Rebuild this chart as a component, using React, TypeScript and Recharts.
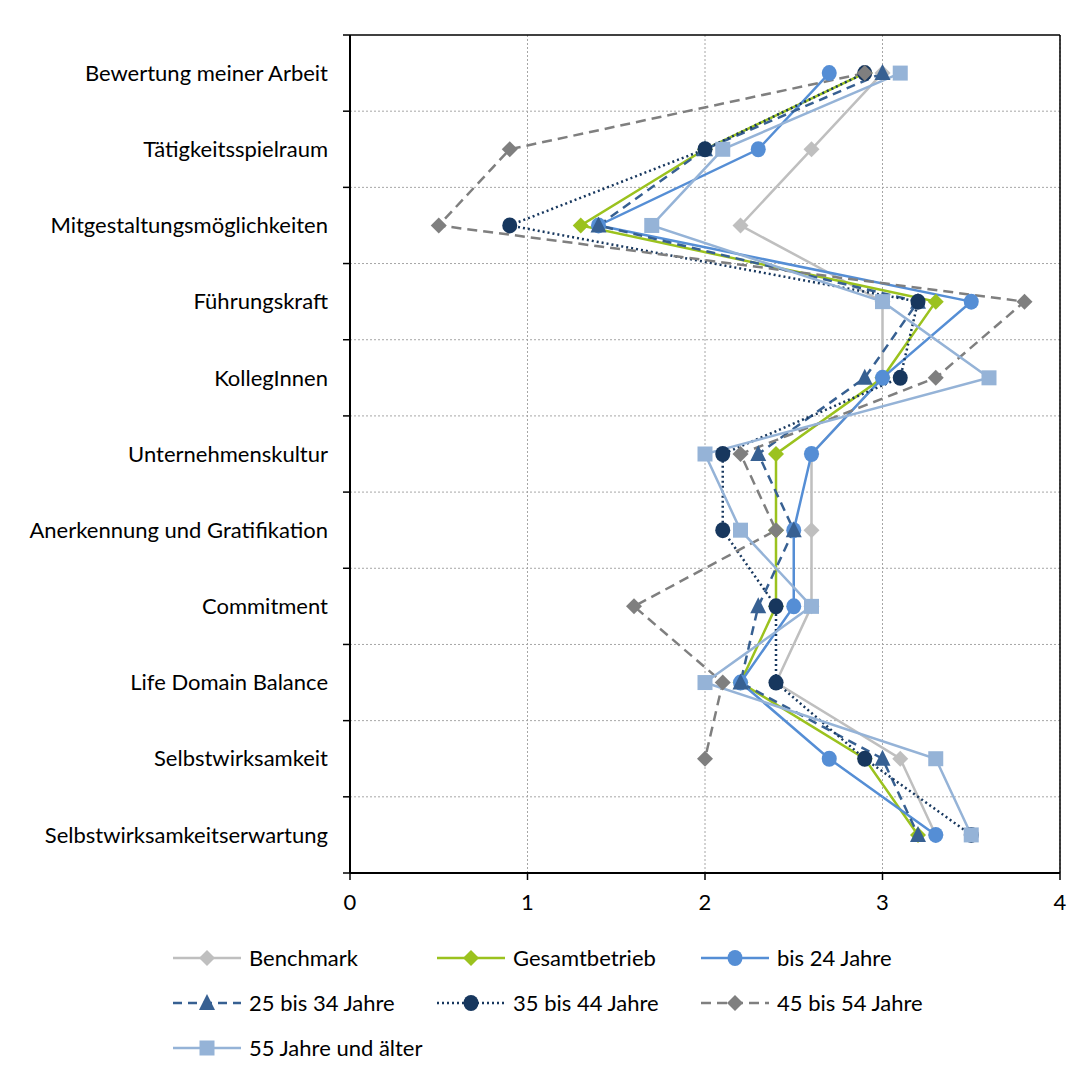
import React from "react";
import { LineChart, Line, XAxis, YAxis, CartesianGrid, ReferenceLine } from "recharts";

// categories (top to bottom)
const categories = [
  "Bewertung meiner Arbeit",
  "Tätigkeitsspielraum",
  "Mitgestaltungsmöglichkeiten",
  "Führungskraft",
  "KollegInnen",
  "Unternehmenskultur",
  "Anerkennung und Gratifikation",
  "Commitment",
  "Life Domain Balance",
  "Selbstwirksamkeit",
  "Selbstwirksamkeitserwartung",
];

const benchmark = [3.0, 2.6, 2.2, 3.0, 3.0, 2.6, 2.6, 2.6, 2.4, 3.1, 3.3];
const gesamtbetrieb = [2.9, 2.0, 1.3, 3.3, 3.0, 2.4, 2.4, 2.4, 2.2, 2.9, 3.2];
const bis24 = [2.7, 2.3, 1.4, 3.5, 3.0, 2.6, 2.5, 2.5, 2.2, 2.7, 3.3];
const j25bis34 = [3.0, 2.0, 1.4, 3.2, 2.9, 2.3, 2.5, 2.3, 2.2, 3.0, 3.2];
const j35bis44 = [2.9, 2.0, 0.9, 3.2, 3.1, 2.1, 2.1, 2.4, 2.4, 2.9, 3.5];
const j45bis54 = [2.9, 0.9, 0.5, 3.8, 3.3, 2.2, 2.4, 1.6, 2.1, 2.0, null];
const j55plus = [3.1, 2.1, 1.7, 3.0, 3.6, 2.0, 2.2, 2.6, 2.0, 3.3, 3.5];

const xTicks = [0, 1, 2, 3, 4];
// category boundaries (integers) and category centres (halves)
const boundaries = Array.from({ length: categories.length + 1 }, (_, i) => i);
const yTicks = Array.from({ length: categories.length * 2 + 1 }, (_, i) => i / 2);

const series = [
  { key: "benchmark", name: "Benchmark", values: benchmark, color: "#bfbfbf", dash: undefined, shape: "diamond" },
  { key: "gesamt", name: "Gesamtbetrieb", values: gesamtbetrieb, color: "#9bc21e", dash: undefined, shape: "diamond" },
  { key: "bis24", name: "bis 24 Jahre", values: bis24, color: "#558ed5", dash: undefined, shape: "circle" },
  { key: "j25", name: "25 bis 34 Jahre", values: j25bis34, color: "#376092", dash: "9 6", shape: "triangle" },
  { key: "j35", name: "35 bis 44 Jahre", values: j35bis44, color: "#17375e", dash: "2 3", shape: "circle" },
  { key: "j45", name: "45 bis 54 Jahre", values: j45bis54, color: "#7f7f7f", dash: "10 6", shape: "diamond" },
  { key: "j55", name: "55 Jahre und älter", values: j55plus, color: "#95b3d7", dash: undefined, shape: "square" },
];

const data = categories.map((name, i) => {
  const row: any = { name, pos: i + 0.5 };
  series.forEach((s) => (row[s.key] = s.values[i]));
  return row;
});

const FONT = "Lato, 'Open Sans', sans-serif";
const FS = 22;

function Marker({ shape, cx, cy, color }: any) {
  if (cx == null || cy == null || isNaN(cx) || isNaN(cy)) return <g />;
  if (shape === "circle") return <ellipse cx={cx} cy={cy} rx={7.5} ry={8} fill={color} />;
  if (shape === "square") return <rect x={cx - 7.5} y={cy - 7.5} width={15} height={15} fill={color} />;
  if (shape === "triangle")
    return <polygon points={`${cx},${cy - 9} ${cx + 8},${cy + 7} ${cx - 8},${cy + 7}`} fill={color} />;
  return <polygon points={`${cx},${cy - 8} ${cx + 8},${cy} ${cx},${cy + 8} ${cx - 8},${cy}`} fill={color} />;
}

// integer ticks -> short tick mark, half ticks -> category label
function CategoryTick({ x, y, payload }: any) {
  const v = payload.value;
  if (Number.isInteger(v)) {
    return <line x1={x - 7} y1={y} x2={x} y2={y} stroke="#000" strokeWidth={1.5} />;
  }
  return (
    <text x={x - 22} y={y} dy="0.35em" textAnchor="end" fill="#000" fontSize={FS} fontFamily={FONT}>
      {categories[Math.floor(v)]}
    </text>
  );
}

function LegendItem({ s }: any) {
  return (
    <div style={{ display: "flex", alignItems: "center", fontFamily: FONT, fontSize: FS, color: "#000", whiteSpace: "nowrap" }}>
      <svg width={70} height={20} style={{ marginRight: 7 }}>
        <line x1={1} y1={10} x2={69} y2={10} stroke={s.color} strokeWidth={2.5} strokeDasharray={s.dash} />
        <Marker shape={s.shape} cx={35} cy={10} color={s.color} />
      </svg>
      <span>{s.name}</span>
    </div>
  );
}

export default function App() {
  return (
    <div style={{ position: "relative", margin: -8, width: 1088, height: 1077, overflow: "hidden" }}>
      <div
        style={{
          position: "absolute",
          left: 7,
          top: 6,
          width: 1120,
          height: 1120,
          border: "1px solid #d9d9d9",
          boxSizing: "border-box",
        }}
      />
      <div style={{ position: "absolute", left: 8, top: 8 }}>
        <LineChart
          width={1072}
          height={910}
          data={data}
          layout="vertical"
          margin={{ top: 27, right: 20, left: 0, bottom: 0 }}
        >
          <CartesianGrid horizontal={false} stroke="#a6a6a6" strokeDasharray="2 2" />
          {boundaries.slice(1, -1).map((b) => (
            <ReferenceLine key={b} y={b} stroke="#a6a6a6" strokeDasharray="2 2" />
          ))}
          <XAxis
            type="number"
            domain={[0, 4]}
            ticks={xTicks}
            height={45}
            axisLine={{ stroke: "#000", strokeWidth: 2 }}
            tickLine={{ stroke: "#000", strokeWidth: 1.5 }}
            tickSize={7}
            tickMargin={14}
            tick={{ fill: "#000", fontSize: FS, fontFamily: FONT }}
          />
          <YAxis
            type="number"
            dataKey="pos"
            domain={[0, categories.length]}
            ticks={yTicks}
            interval={0}
            width={342}
            axisLine={{ stroke: "#000", strokeWidth: 2 }}
            tickLine={false}
            tickSize={0}
            tickMargin={0}
            tick={<CategoryTick />}
          />
          <ReferenceLine y={0} stroke="#000" strokeWidth={1.5} />
          <ReferenceLine x={4} stroke="#000" strokeWidth={1.5} />
          {series.map((s) => (
            <Line
              key={s.key}
              dataKey={s.key}
              name={s.name}
              stroke={s.color}
              strokeWidth={2.5}
              strokeDasharray={s.dash}
              type="linear"
              isAnimationActive={false}
              dot={(p: any) => <Marker key={`${s.key}-${p.index}`} shape={s.shape} cx={p.cx} cy={p.cy} color={s.color} />}
              activeDot={false}
            />
          ))}
        </LineChart>
      </div>
      {series.map((s, i) => (
        <div
          key={s.key}
          style={{ position: "absolute", left: 172 + (i % 3) * 264, top: 944 + Math.floor(i / 3) * 45 }}
        >
          <LegendItem s={s} />
        </div>
      ))}
    </div>
  );
}
